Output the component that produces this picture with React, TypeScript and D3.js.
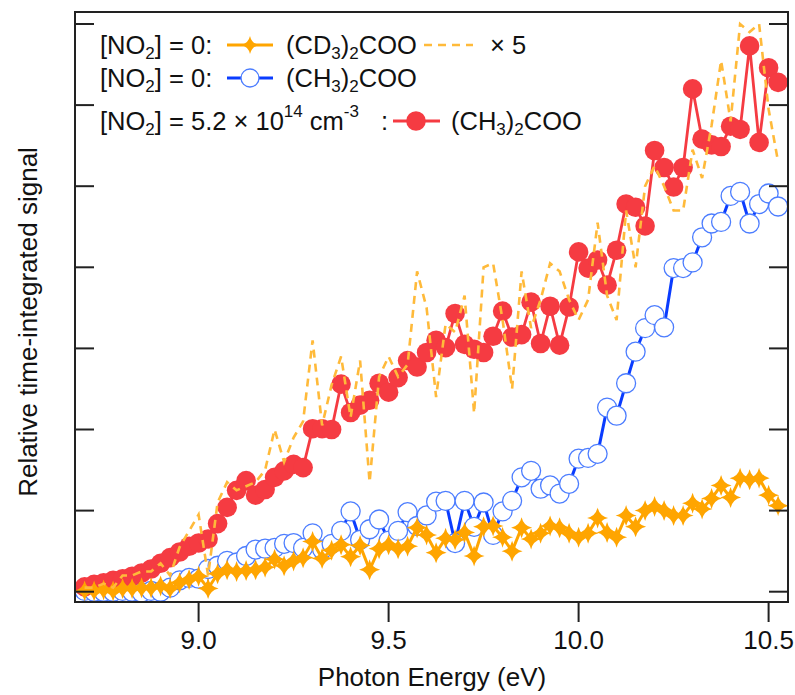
import React from "react";
import * as d3 from "d3";

// Photon energies (eV)
const energies = [
  8.700, 8.725, 8.750, 8.775, 8.800, 8.825, 8.850, 8.875, 8.900, 8.925,
  8.950, 8.975, 9.000, 9.025, 9.050, 9.075, 9.100, 9.125, 9.150, 9.175,
  9.200, 9.225, 9.250, 9.275, 9.300, 9.325, 9.350, 9.375, 9.400, 9.425,
  9.450, 9.475, 9.500, 9.525, 9.550, 9.575, 9.600, 9.625, 9.650, 9.675,
  9.700, 9.725, 9.750, 9.775, 9.800, 9.825, 9.850, 9.875, 9.900, 9.925,
  9.950, 9.975, 10.000, 10.025, 10.050, 10.075, 10.100, 10.125, 10.150, 10.175,
  10.200, 10.225, 10.250, 10.275, 10.300, 10.325, 10.350, 10.375, 10.400, 10.425,
  10.450, 10.475, 10.500, 10.525,
];

// [NO2] = 5.2e14 cm^-3 : (CH3)2COO  (red filled circles)
const redNO2 = [
  0.06, 0.09, 0.11, 0.14, 0.16, 0.19, 0.23, 0.28, 0.35, 0.42,
  0.49, 0.56, 0.60, 0.65, 0.84, 1.04, 1.25, 1.37, 1.19, 1.26,
  1.41, 1.49, 1.57, 1.53, 2.01, 2.01, 2.00, 2.56, 2.21, 2.30,
  2.36, 2.57, 2.46, 2.64, 2.85, 2.77, 2.95, 3.10, 3.01, 3.43,
  3.05, 2.99, 2.95, 3.15, 3.46, 3.14, 3.17, 3.57, 3.06, 3.52,
  3.04, 3.51, 4.19, 3.99, 4.09, 3.78, 4.21, 4.78, 4.74, 4.51,
  5.44, 5.23, 4.99, 5.23, 6.20, 5.58, 5.51, 5.49, 5.74, 5.70,
  6.73, 5.54, 6.46, 6.28,
];

// [NO2] = 0 : (CH3)2COO  (blue open circles)
const blueCH3 = [
  0.01, 0.00, 0.00, 0.00, 0.01, 0.00, -0.01, 0.01, 0.00, 0.05,
  0.14, 0.17, 0.16, 0.28, 0.32, 0.38, 0.36, 0.44, 0.52, 0.53,
  0.54, 0.59, 0.60, 0.54, 0.72, 0.52, 0.59, 0.75, 0.99, 0.64,
  0.77, 0.89, 0.63, 0.75, 0.98, 0.81, 0.94, 1.11, 1.12, 0.60,
  1.12, 0.80, 1.10, 0.70, 0.99, 1.12, 1.41, 1.49, 1.27, 1.31,
  1.21, 1.33, 1.64, 1.65, 1.70, 2.27, 2.17, 2.57, 2.96, 3.25,
  3.41, 3.26, 3.99, 3.99, 4.06, 4.37, 4.54, 4.56, 4.88, 4.93,
  4.54, 4.78, 4.91, 4.75,
];

// [NO2] = 0 : (CD3)2COO  (orange stars)
const orangeCD3 = [
  0.01, 0.01, 0.02, 0.01, 0.04, 0.04, 0.05, 0.05, 0.07, 0.04,
  0.11, 0.15, 0.19, 0.04, 0.22, 0.27, 0.25, 0.26, 0.27, 0.30,
  0.40, 0.32, 0.38, 0.42, 0.62, 0.41, 0.51, 0.58, 0.43, 0.57,
  0.27, 0.53, 0.58, 0.53, 0.56, 0.79, 0.70, 0.48, 0.66, 0.64,
  0.73, 0.44, 0.80, 0.81, 0.67, 0.50, 0.79, 0.65, 0.72, 0.81,
  0.79, 0.72, 0.67, 0.72, 0.91, 0.73, 0.67, 0.94, 0.80, 1.00,
  1.05, 1.00, 0.94, 0.94, 1.09, 1.02, 1.15, 1.31, 1.16, 1.40,
  1.38, 1.40, 1.19, 1.06,
];

// The dashed trace is the (CD3)2COO trace multiplied by 5 (per legend "× 5")
const scaleFactor = 5;
const orangeCD3x5 = orangeCD3.map((v) => v * scaleFactor);

const xTicks = [9.0, 9.5, 10.0, 10.5];
const xTickLabels = ["9.0", "9.5", "10.0", "10.5"];
const yTicks = [0, 1, 2, 3, 4, 5, 6, 7];

const W = 795;
const H = 695;
const plot = { left: 75, right: 788, top: 12, bottom: 602 };

const FONT = "'Liberation Sans', Arial, Helvetica, sans-serif";
const RED = "#F53B42";
const BLUE_LINE = "#0A3CFF";
const BLUE_MARK = "#4C7DFF";
const ORANGE = "#FFA500";
const ORANGE_DASH = "#FFBA3A";

function starPath(cx: number, cy: number, r: number) {
  const c = r * 0.18;
  return (
    `M${cx},${cy - r}` +
    `Q${cx + c},${cy - c} ${cx + r},${cy}` +
    `Q${cx + c},${cy + c} ${cx},${cy + r}` +
    `Q${cx - c},${cy + c} ${cx - r},${cy}` +
    `Q${cx - c},${cy - c} ${cx},${cy - r}Z`
  );
}

export default function App() {
  const x = d3.scaleLinear().domain([9.0, 10.5]).range([198.6, 768.6]);
  const y = d3.scaleLinear().domain([0, 7]).range([591.7, 24]);

  const line = (vals: number[]) =>
    d3
      .line<number>()
      .x((_, i) => x(energies[i]))
      .y((v) => y(v))(vals) as string;

  const fs = 26; // axis text
  const lf = 25.5; // legend text
  const sf = 17; // sub/superscript

  return (
    <svg width={W} height={H} style={{ display: "block", position: "absolute", left: 0, top: 0 }} fontFamily={FONT}>
      <rect x={0} y={0} width={W} height={H} fill="#fff" />
      <defs>
        <clipPath id="plotclip">
          <rect x={plot.left} y={plot.top} width={plot.right - plot.left} height={plot.bottom - plot.top} />
        </clipPath>
      </defs>

      <g clipPath="url(#plotclip)">
        {/* blue */}
        <path d={line(blueCH3)} fill="none" stroke={BLUE_LINE} strokeWidth={3} />
        {blueCH3.map((v, i) => (
          <circle key={"b" + i} cx={x(energies[i])} cy={y(v)} r={9.5} fill="#fff" stroke={BLUE_MARK} strokeWidth={1.3} />
        ))}
        {/* red */}
        <path d={line(redNO2)} fill="none" stroke={RED} strokeWidth={2.8} />
        {redNO2.map((v, i) => (
          <circle key={"r" + i} cx={x(energies[i])} cy={y(v)} r={9.8} fill={RED} />
        ))}
        {/* orange */}
        <path d={line(orangeCD3)} fill="none" stroke={ORANGE} strokeWidth={3} />
        {orangeCD3.map((v, i) => (
          <path key={"o" + i} d={starPath(x(energies[i]), y(v), 10.5)} fill={ORANGE} />
        ))}
        {/* dashed x5 */}
        <path d={line(orangeCD3x5)} fill="none" stroke={ORANGE_DASH} strokeWidth={2.6} strokeDasharray="8 6" />
      </g>

      {/* frame */}
      <rect x={plot.left} y={plot.top} width={plot.right - plot.left} height={plot.bottom - plot.top} fill="none" stroke="#222" strokeWidth={2} />

      {/* y ticks, both sides, inward */}
      {yTicks.map((t) => (
        <g key={"yt" + t}>
          <line x1={plot.left} x2={plot.left + 19} y1={y(t)} y2={y(t)} stroke="#222" strokeWidth={2} />
          <line x1={plot.right - 19} x2={plot.right} y1={y(t)} y2={y(t)} stroke="#222" strokeWidth={2} />
        </g>
      ))}

      {/* x ticks outward */}
      {xTicks.map((t, i) => (
        <g key={"xt" + t}>
          <line x1={x(t)} x2={x(t)} y1={plot.bottom} y2={plot.bottom + 20} stroke="#222" strokeWidth={2} />
          <text x={x(t)} y={649} fontSize={fs} textAnchor="middle" fill="#111">
            {xTickLabels[i]}
          </text>
        </g>
      ))}

      <text x={432} y={686} fontSize={fs} textAnchor="middle" fill="#111">
        Photon Energy (eV)
      </text>
      <text transform="translate(37,322) rotate(-90)" fontSize={fs} textAnchor="middle" fill="#111">
        Relative time-integrated signal
      </text>

      {/* legend */}
      <g fill="#111" fontSize={lf}>
        {/* row 1 */}
        <text x={100} y={54}>
          [NO<tspan fontSize={sf} dy={5}>2</tspan>
          <tspan dy={-5}>] = 0:</tspan>
        </text>
        <line x1={227} x2={273} y1={45} y2={45} stroke={ORANGE} strokeWidth={3} />
        <path d={starPath(250, 45, 9)} fill={ORANGE} />
        <text x={286} y={54}>
          (CD<tspan fontSize={sf} dy={5}>3</tspan>
          <tspan dy={-5}>)</tspan>
          <tspan fontSize={sf} dy={5}>2</tspan>
          <tspan dy={-5}>COO</tspan>
        </text>
        <line x1={424} x2={473} y1={45} y2={45} stroke={ORANGE_DASH} strokeWidth={2.6} strokeDasharray="8 6" />
        <text x={490} y={54}>× 5</text>

        {/* row 2 */}
        <text x={100} y={87}>
          [NO<tspan fontSize={sf} dy={5}>2</tspan>
          <tspan dy={-5}>] = 0:</tspan>
        </text>
        <line x1={227} x2={273} y1={78} y2={78} stroke={BLUE_LINE} strokeWidth={3} />
        <circle cx={250} cy={78} r={9} fill="#fff" stroke={BLUE_MARK} strokeWidth={1.3} />
        <text x={286} y={87}>
          (CH<tspan fontSize={sf} dy={5}>3</tspan>
          <tspan dy={-5}>)</tspan>
          <tspan fontSize={sf} dy={5}>2</tspan>
          <tspan dy={-5}>COO</tspan>
        </text>

        {/* row 3 */}
        <text x={100} y={130}>
          [NO<tspan fontSize={sf} dy={5}>2</tspan>
          <tspan dy={-5}>] = 5.2 × 10</tspan>
          <tspan fontSize={sf} dy={-13}>14</tspan>
          <tspan dy={13}> cm</tspan>
          <tspan fontSize={sf} dy={-13}>-3</tspan>
        </text>
        <text x={381} y={130}>:</text>
        <line x1={393} x2={440} y1={121} y2={121} stroke={RED} strokeWidth={2.8} />
        <circle cx={416} cy={121} r={9.8} fill={RED} />
        <text x={451} y={130}>
          (CH<tspan fontSize={sf} dy={5}>3</tspan>
          <tspan dy={-5}>)</tspan>
          <tspan fontSize={sf} dy={5}>2</tspan>
          <tspan dy={-5}>COO</tspan>
        </text>
      </g>
    </svg>
  );
}
